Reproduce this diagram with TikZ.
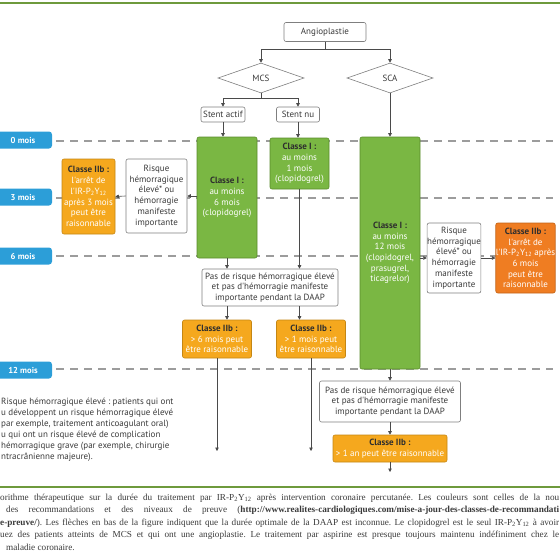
\documentclass[tikz,border=0pt]{standalone}
\usepackage{fontspec}
\setmainfont{Liberation Serif}
\newfontfamily\ptsans{PT Sans}
\usetikzlibrary{shapes.geometric,arrows.meta}
\frenchspacing

\definecolor{boxgray}{HTML}{7F7F7F}
\definecolor{txtgray}{HTML}{3A3A3A}
\definecolor{hdtext}{HTML}{2E2E2E}
\definecolor{grnfill}{HTML}{7AB743}
\definecolor{grnline}{HTML}{5A8C2C}
\definecolor{ambfill}{HTML}{F5A81E}
\definecolor{ambline}{HTML}{C48614}
\definecolor{orgfill}{HTML}{EF7D22}
\definecolor{orgline}{HTML}{C26317}
\definecolor{tabblue}{HTML}{2C9ED8}
\definecolor{dashgray}{HTML}{9C9C9C}
\definecolor{linkgray}{HTML}{4A4A4A}
\definecolor{rulegreen}{HTML}{6E9A3C}

\newcommand\hd[1]{\textcolor{hdtext}{\bfseries #1}}
\newcommand\irp{l'IR-P\textsubscript{2}Y\textsubscript{12}}

\tikzset{
  box/.style={draw=boxgray, fill=white, rounded corners=2pt, line width=0.6pt,
    inner sep=0pt, align=center, text=txtgray,
    font=\ptsans\fontsize{9}{10.7}\selectfont},
  greenbox/.style={box, draw=grnline, fill=grnfill, text=white},
  ambbox/.style={box, draw=ambline, fill=ambfill, text=white},
  orgbox/.style={box, draw=orgline, fill=orgfill, text=white},
  choice/.style={box, diamond, sharp corners, minimum width=86, minimum height=30},
  month/.style={fill=tabblue, rounded corners=3pt, text=white, inner sep=0pt,
    minimum width=58, minimum height=17,
    font=\ptsans\bfseries\fontsize{8.6}{10}\selectfont},
  timeline/.style={draw=dashgray, line width=1.1pt, dash pattern=on 8pt off 6pt},
  link/.style={draw=linkgray, line width=0.6pt, -{Triangle[length=3.5pt,width=3.5pt]}},
  rule/.style={draw=rulegreen, line width=1.4pt},
}

\begin{document}
\begin{tikzpicture}[x=1pt, y=-1pt]
  \useasboundingbox (0,0) rectangle (560,560);
  \clip (0,0) rectangle (560,560);

  % frame rules
  \coordinate (topL) at (0,3);
  \coordinate (topR) at (560,3);
  \coordinate (botL) at (0,487);
  \coordinate (botR) at (560,487);
  \draw[rule] (topL) -- (topR);
  \draw[rule] (botL) -- (botR);

  % months
  \node[month] (m0)  at (23,140) {0 mois};
  \node[month] (m3)  at (23,197) {3 mois};
  \node[month] (m6)  at (23,256) {6 mois};
  \node[month] (m12) at (23,370) {12 mois};
  \coordinate (e0)  at (553,141);
  \coordinate (e3)  at (553,198);
  \coordinate (e6)  at (553,256);
  \coordinate (e12) at (553,369);
  \draw[timeline] ([xshift=4pt]m0.east |- e0) -- (e0);
  \draw[timeline] ([xshift=4pt]m3.east |- e3) -- (e3);
  \draw[timeline] ([xshift=4pt]m6.east |- e6) -- (e6);
  \draw[timeline] ([xshift=4pt]m12.east |- e12) -- (e12);

  % top of the tree
  \node[box, minimum width=82, minimum height=19] (angio) at (325,32) {Angioplastie};
  \node[choice] (mcs) at (261,78) {MCS};
  \node[choice] (sca) at (390,78) {SCA};
  \node[box, minimum width=44, minimum height=15] (actif) at (223,114.5) {Stent actif};
  \node[box, minimum width=43, minimum height=15] (nu) at (298,114.5) {Stent nu};

  % MCS branch
  \node[greenbox, minimum width=60, minimum height=121] (c6) at (227,197.5)
    {\hd{Classe I :}\\au moins\\6 mois\\(clopidogrel)};
  \node[greenbox, minimum width=59, minimum height=51] (c1) at (299.5,163.5)
    {\hd{Classe I :}\\au moins\\1 mois\\(clopidogrel)};
  \node[box, minimum width=61, minimum height=74] (riskL) at (156.5,196)
    {Risque\\hémorragique\\élevé* ou\\hémorragie\\manifeste\\importante};
  \node[ambbox, minimum width=53, minimum height=75] (stopL) at (88.5,196.5)
    {\hd{Classe IIb :}\\l'arrêt de\\\irp\\après 3 mois\\peut être\\raisonnable};
  \node[box, minimum width=136, minimum height=37] (noriskL) at (270,287.5)
    {Pas de risque hémorragique élevé\\et pas d'hémorragie manifeste\\importante pendant la DAAP};
  \node[ambbox, minimum width=69, minimum height=38] (more6) at (217,339)
    {\hd{Classe IIb :}\\> 6 mois peut\\être raisonnable};
  \node[ambbox, minimum width=69, minimum height=38] (more1) at (311,339)
    {\hd{Classe IIb :}\\> 1 mois peut\\être raisonnable};
  \coordinate (end6) at (217,451);
  \coordinate (end1) at (311,451);

  % SCA branch
  \node[greenbox, minimum width=60, minimum height=232] (c12) at (390,253)
    {\hd{Classe I :}\\au moins\\12 mois\\(clopidogrel,\\prasugrel,\\ticagrelor)};
  \node[box, minimum width=53, minimum height=70] (riskR) at (454,258)
    {Risque\\hémorragique\\élevé* ou\\hémorragie\\manifeste\\importante};
  \node[orgbox, minimum width=55, minimum height=70] (stopR) at (525.5,258)
    {\hd{Classe IIb :}\\l'arrêt de\\\irp{} après\\6 mois\\peut être\\raisonnable};
  \node[box, minimum width=141, minimum height=41] (noriskR) at (390,401.5)
    {Pas de risque hémorragique élevé\\et pas d'hémorragie manifeste\\importante pendant la DAAP};
  \node[ambbox, minimum width=114, minimum height=27] (more12) at (390,448.5)
    {\hd{Classe IIb :}\\> 1 an peut être raisonnable};
  \coordinate (end12) at (390,472);

  % connectors
  \draw[link] (angio.south) -- ++(0,7) -| (mcs.north);
  \draw[link] (angio.south) -- ++(0,7) -| (sca.north);
  \draw[link] (mcs.south) -- ++(0,5) -| (actif.north);
  \draw[link] (mcs.south) -- ++(0,5) -| (nu.north);
  \draw[link] (sca.south) -- (c12.north);
  \draw[link] (actif.south) -- (actif.south |- c6.north);
  \draw[link] (nu.south) -- (nu.south |- c1.north);
  \draw[link] (c6.west |- riskL.east) -- (riskL.east);
  \draw[link] (riskL.west) -- (stopL.east);
  \draw[link] (c6.south) -- (c6.south |- noriskL.north);
  \draw[link] (c1.south) -- (c1.south |- noriskL.north);
  \draw[link] (c6.south |- noriskL.south) -- (c6.south |- more6.north);
  \draw[link] (c1.south |- noriskL.south) -- (c1.south |- more1.north);
  \draw[link] (more6.south) -- (end6);
  \draw[link] (more1.south) -- (end1);
  \draw[link] (c12.east |- riskR.west) -- (riskR.west);
  \draw[link] (riskR.east) -- (stopR.west);
  \draw[link] (c12.south) -- (noriskR.north);
  \draw[link] (noriskR.south) -- (more12.north);
  \draw[link] (more12.south) -- (end12);

  % footnote
  \node[anchor=north west, align=left, inner sep=0pt, text=txtgray,
    font=\ptsans\fontsize{9}{11}\selectfont] (note) at (1,398)
    {Risque hémorragique élevé : patients qui ont\\
     u développent un risque hémorragique élevé\\
     par exemple, traitement anticoagulant oral)\\
     u qui ont un risque élevé de complication\\
     hémorragique grave (par exemple, chirurgie\\
     ntracrânienne majeure).};

  % caption
  \begin{scope}[every node/.style={anchor=base west, inner sep=0pt, text=txtgray,
      font=\fontsize{9.2}{10}\selectfont}]
    \node (cap1) at (0,500) {\makebox[559pt][s]{orithme thérapeutique sur la durée du traitement par IR-P\textsubscript{2}Y\textsubscript{12} après intervention coronaire percutanée. Les couleurs sont celles de la nou}};
    \node (cap2) at (6,512.5) {\makebox[553pt][s]{des recommandations et des niveaux de preuve (\textbf{http://www.realites-cardiologiques.com/mise-a-jour-des-classes-de-recommandati}}};
    \node (cap3) at (0,525) {\makebox[559pt][s]{\textbf{e-preuve/}). Les flèches en bas de la figure indiquent que la durée optimale de la DAAP est inconnue. Le clopidogrel est le seul IR-P\textsubscript{2}Y\textsubscript{12} à avoir}};
    \node (cap4) at (0,537.5) {\makebox[559pt][s]{uez des patients atteints de MCS et qui ont une angioplastie. Le traitement par aspirine est presque toujours maintenu indéfiniment chez le}};
    \node (cap5) at (6,550) {maladie coronaire.};
  \end{scope}
\end{tikzpicture}
\end{document}
